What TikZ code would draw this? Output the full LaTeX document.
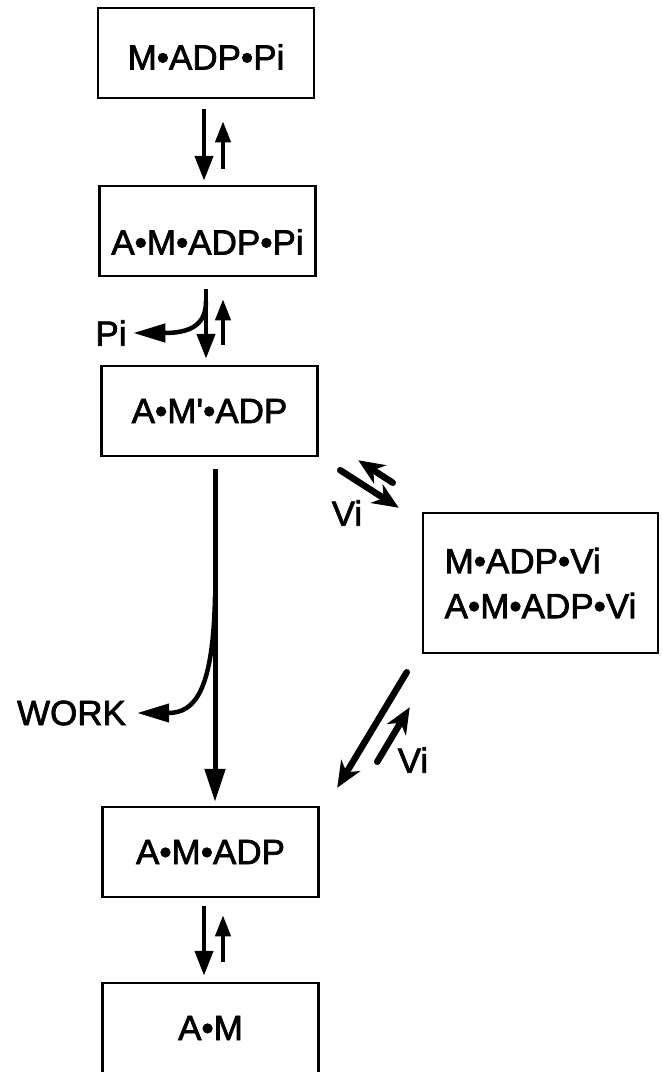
\documentclass[tikz,border=0pt]{standalone}
\usepackage{fontspec}
\setmainfont{Liberation Sans}[FakeBold=2]
\usetikzlibrary{arrows.meta}

\begin{document}
\begin{tikzpicture}[x=1pt, y=-1pt,
  every node/.style={font=\fontsize{35}{45}\selectfont, inner sep=3pt},
  box/.style={draw, line width=2.5pt, minimum width=216pt, minimum height=90pt, inner sep=0pt},
  fwd/.style={line width=4.5pt, -{Triangle[length=25pt,width=18pt]}},
  bwd/.style={line width=4pt, -{Triangle[length=21pt,width=15pt]}},
  main/.style={line width=5pt, -{Triangle[length=33pt,width=20pt]}},
  branch/.style={line width=4.5pt, -{Triangle[length=32pt,width=18pt]}},
  diag/.style={line width=6.5pt, line cap=round, -{Stealth[length=26pt,width=22pt,inset=8pt]}}]
\useasboundingbox (0,0) rectangle (663,1072);
\node[box, text height=33pt, text depth=0pt] (mpi) at (206,53) {M•ADP•Pi};
\node[box, text height=47pt, text depth=0pt] (ampi) at (207.5,231) {A•M•ADP•Pi};
\node[box] (amp) at (209.5,411) {A•M\textquotesingle•ADP};
\node[box] (amd) at (210.5,852) {A•M•ADP};
\node[box] (am) at (210.5,1028) {A•M};
\node[box, minimum width=235pt, minimum height=140pt, align=left] (vi) at (540.5,583) {M•ADP•Vi\\A•M•ADP•Vi};
\node (pi) at (111,333) {Pi};
\node (work) at (71.5,713) {WORK};
\node (vi1) at (347,513) {Vi};
\node (vi2) at (413,760) {Vi};
\coordinate (pifork) at ([shift={(-1.5,24)}]ampi.south);
\coordinate (workfork) at ([shift={(5.5,140)}]amp.south);
\draw[fwd, shorten <=10pt, shorten >=4pt] ([xshift=-2pt]mpi.south) -- ([xshift=-2pt]mpi.south |- ampi.north);
\draw[bwd, shorten <=16pt, shorten >=22pt] ([xshift=17pt]mpi.south |- ampi.north) -- ([xshift=17pt]mpi.south);
\draw[fwd, shorten <=12pt, shorten >=6pt] ([xshift=-1.5pt]ampi.south) -- ([xshift=-1.5pt]ampi.south |- amp.north);
\draw[bwd, shorten <=20pt, shorten >=22pt] ([xshift=15.5pt]ampi.south |- amp.north) -- ([xshift=15.5pt]ampi.south);
\draw[branch, shorten >=3.5pt] (pifork) .. controls +(0,24) and +(60,0) .. (pi.east);
\draw[main, shorten <=12pt, shorten >=4pt] ([xshift=5.5pt]amp.south) -- ([xshift=5.5pt]amp.south |- amd.north);
\draw[branch, shorten >=8pt] (workfork) .. controls +(-2,95) and +(65,0) .. (work.east);
\draw[fwd, shorten <=8pt, shorten >=6pt] ([xshift=-6.5pt]amd.south) -- ([xshift=-6.5pt]amd.south |- am.north);
\draw[bwd, shorten <=20pt, shorten >=17pt] ([xshift=12.5pt]amd.south |- am.north) -- ([xshift=12.5pt]amd.south);
\draw[diag] ([shift={(21.5,13)}]amp.south east) -- ([shift={(-23,-4)}]vi.north west);
\draw[diag] ([shift={(-29,-29)}]vi.north west) -- ([shift={(39.5,3)}]amp.south east);
\draw[diag] ([shift={(-15,18)}]vi.south west) -- ([shift={(17.5,-18)}]amd.north east);
\draw[diag] ([shift={(57.5,-44)}]amd.north east) -- ([shift={(-12,53)}]vi.south west);
\end{tikzpicture}
\end{document}
